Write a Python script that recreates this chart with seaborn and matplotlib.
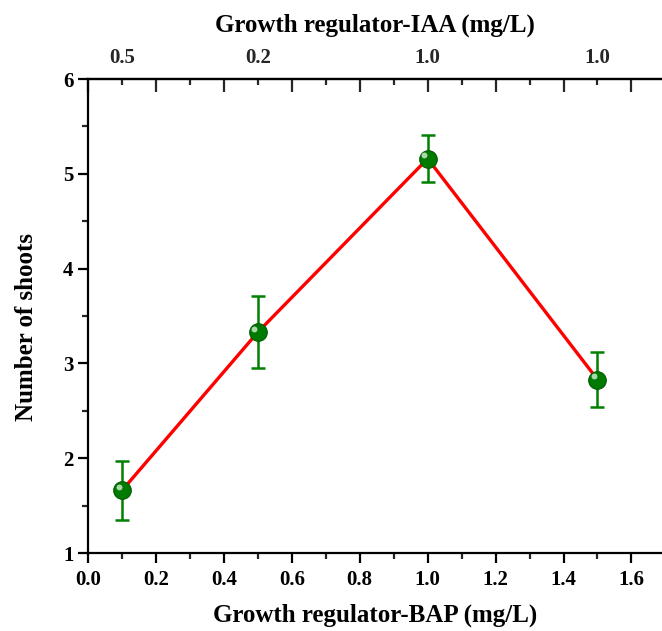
import numpy as np
import pandas as pd
import matplotlib
matplotlib.use('Agg')
import matplotlib.pyplot as plt
import matplotlib.transforms as mtransforms
from matplotlib.ticker import MultipleLocator
import seaborn as sns

# data
bap = [0.1, 0.5, 1.0, 1.5]
shoots = [1.66, 3.33, 5.16, 2.83]
shoots_err = [0.31, 0.38, 0.25, 0.29]
iaa_labels = ['0.5', '0.2', '1.0', '1.0']

df = pd.DataFrame({'BAP': bap, 'Shoots': shoots, 'Err': shoots_err})

sns.set_style('white')
plt.rcParams['font.family'] = ['Liberation Serif', 'DejaVu Serif']
plt.rcParams['font.weight'] = 'bold'
plt.rcParams['text.color'] = 'black'
plt.rcParams['axes.labelcolor'] = 'black'

fig = plt.figure(figsize=(6.62, 6.31), dpi=100)
ax = fig.add_axes([0.133, 0.1236, 0.867, 0.7512])

sns.lineplot(data=df, x='BAP', y='Shoots', color='red', linewidth=2.4, ax=ax, zorder=2)
ax.errorbar(df['BAP'], df['Shoots'], yerr=df['Err'], fmt='none', ecolor='green',
            elinewidth=1.8, capsize=5, capthick=1.8, zorder=3)
ax.scatter(df['BAP'], df['Shoots'], s=160, color='#007a00', edgecolor='#005a00',
           linewidth=0.8, zorder=4)
# little highlight for the shiny sphere look
hl = mtransforms.offset_copy(ax.transData, fig=fig, x=-2.5, y=2.5, units='points')
ax.scatter(df['BAP'], df['Shoots'], s=18, color='#d8f0d8', alpha=0.8,
           linewidth=0, zorder=5, transform=hl)

ax.set_xlim(0, 1.69)
ax.set_ylim(1, 6)
ax.xaxis.set_major_locator(MultipleLocator(0.2))
ax.xaxis.set_minor_locator(MultipleLocator(0.1))
ax.yaxis.set_major_locator(MultipleLocator(1))
ax.yaxis.set_minor_locator(MultipleLocator(0.5))

for side in ['left', 'bottom', 'top']:
    ax.spines[side].set_linewidth(1.6)
    ax.spines[side].set_color('black')
ax.spines['right'].set_visible(False)

ax.tick_params(axis='both', which='both', bottom=True, left=True, top=False, right=False)
ax.tick_params(axis='both', which='major', direction='out', length=7, width=1.6,
               labelsize=15, colors='black')
ax.tick_params(axis='both', which='minor', direction='out', length=4, width=1.6)
ax.tick_params(axis='x', pad=5)

ax.set_xlabel('Growth regulator-BAP (mg/L)', fontsize=18, fontweight='bold', labelpad=10)
ax.set_ylabel('Number of shoots', fontsize=18, fontweight='bold')
ax.yaxis.set_label_coords(-0.088, 0.477)

# top axis with IAA levels
top = ax.secondary_xaxis('top')
top.spines['top'].set_linewidth(1.6)
top.xaxis.set_major_locator(MultipleLocator(0.2))
top.xaxis.set_minor_locator(MultipleLocator(0.1))
top.tick_params(which='major', direction='in', length=9, width=1.6, labeltop=False, top=True)
top.tick_params(which='minor', direction='in', length=4, width=1.6, top=True)
top2 = ax.secondary_xaxis('top')
top2.spines['top'].set_visible(False)
top2.set_xticks(bap)
top2.set_xticklabels(iaa_labels, fontsize=15, fontweight='bold')
top2.tick_params(length=0, pad=8)
top2.set_xlabel('Growth regulator-IAA (mg/L)', fontsize=18, fontweight='bold', labelpad=12)

fig.savefig('out.png', dpi=100)
